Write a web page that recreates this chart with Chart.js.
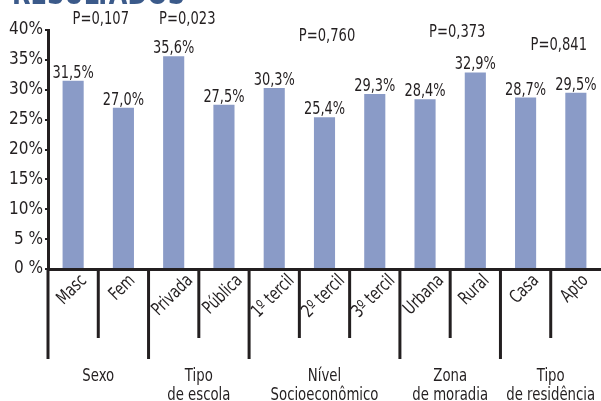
<!DOCTYPE html>
<html>
<head>
<meta charset="utf-8">
<script src="https://cdn.jsdelivr.net/npm/chart.js@4.4.0/dist/chart.umd.min.js"></script>
<style>
  html, body { margin: 0; padding: 0; background: #fff; }
  #wrap { width: 601px; height: 401px; position: relative; }
</style>
</head>
<body>
<div id="wrap"><canvas id="resultsChart" width="601" height="401"></canvas></div>
<script>
// data
const categories = ['Masc', 'Fem', 'Privada', 'Pública', '1º tercil', '2º tercil', '3º tercil', 'Urbana', 'Rural', 'Casa', 'Apto'];
const percentages = [31.5, 27.0, 35.6, 27.5, 30.3, 25.4, 29.3, 28.4, 32.9, 28.7, 29.5];
const groupNames = [['Sexo'], ['Tipo', 'de escola'], ['Nível', 'Socioeconômico'], ['Zona', 'de moradia'], ['Tipo', 'de residência']];
const groupSizes = [2, 2, 3, 2, 2];
const pValues = ['P=0,107', 'P=0,023', 'P=0,760', 'P=0,373', 'P=0,841'];
const yTickValues = [0, 5, 10, 15, 20, 25, 30, 35, 40];

// where each p-value sits, in axis units (category index, percent)
const pSpots = [[0.55, 41.0], [2.27, 41.0], [5.05, 38.2], [7.64, 38.8], [9.66, 36.6]];

const FONT = "'Liberation Sans Narrow', 'DejaVu Sans Condensed', 'Roboto Condensed', sans-serif";
const INK = '#231f20';
const SQUEEZE = 0.82;

Chart.defaults.font.family = FONT;
Chart.defaults.color = INK;

const fmt = (v) => v.toFixed(1).replace('.', ',') + '%';

// draw text squeezed horizontally, the reference uses a narrow face
const squeezed = (ctx, txt, px, py, sx) => {
  ctx.save();
  ctx.translate(px, py);
  ctx.scale(sx, 1);
  ctx.fillText(txt, 0, 0);
  ctx.restore();
};

const annotate = {
  id: 'annotate',
  afterDraw(chart) {
    const ctx = chart.ctx;
    const x = chart.scales.x;
    const y = chart.scales.y;
    const base = y.getPixelForValue(0);
    ctx.save();

    // title, mostly cut off at the top
    ctx.fillStyle = '#3b5a8a';
    ctx.font = "bold 30px " + FONT;
    ctx.textAlign = 'left';
    ctx.textBaseline = 'alphabetic';
    const tw = ctx.measureText('RESULTADOS').width;
    squeezed(ctx, 'RESULTADOS', 12, 4, 173 / tw);

    // separators under the axis
    const boundaries = [0];
    groupSizes.reduce((acc, n) => { boundaries.push(acc + n); return acc + n; }, 0);
    ctx.strokeStyle = INK;
    ctx.lineWidth = 3;
    for (let i = 0; i < categories.length; i++) {
      const px = x.getPixelForValue(i - 0.5);
      const long = boundaries.includes(i);
      ctx.beginPath();
      ctx.moveTo(px, base);
      ctx.lineTo(px, base + (long ? 90 : 69));
      ctx.stroke();
    }

    // rotated category labels
    ctx.fillStyle = INK;
    ctx.font = "18px " + FONT;
    ctx.textAlign = 'right';
    ctx.textBaseline = 'middle';
    categories.forEach((label, i) => {
      const w = ctx.measureText(label).width * SQUEEZE;
      const cx = x.getPixelForValue(i) - 1;
      ctx.save();
      ctx.translate(cx + 0.354 * w, base + 9);
      ctx.rotate(-Math.PI / 4);
      ctx.scale(SQUEEZE, 1);
      ctx.fillText(label, 0, 0);
      ctx.restore();
    });

    // group names
    ctx.textAlign = 'center';
    ctx.textBaseline = 'alphabetic';
    let start = 0;
    groupSizes.forEach((n, g) => {
      const cx = (x.getPixelForValue(start - 0.5) + x.getPixelForValue(start + n - 0.5)) / 2;
      groupNames[g].forEach((line, k) => squeezed(ctx, line, cx, base + 112 + k * 19, SQUEEZE));
      start += n;
    });

    // values over the bars
    const meta = chart.getDatasetMeta(0);
    meta.data.forEach((bar, i) => {
      squeezed(ctx, fmt(percentages[i]), bar.x, bar.y - 3, 0.8);
    });

    // p-values
    pValues.forEach((txt, g) => {
      squeezed(ctx, txt, x.getPixelForValue(pSpots[g][0]), y.getPixelForValue(pSpots[g][1]), 0.81);
    });

    ctx.restore();
  }
};

new Chart(document.getElementById('resultsChart'), {
  type: 'bar',
  data: {
    labels: categories,
    datasets: [{
      data: percentages,
      backgroundColor: '#8a9bc7',
      barPercentage: 0.42,
      categoryPercentage: 1.0
    }]
  },
  options: {
    responsive: false,
    animation: false,
    devicePixelRatio: 1,
    layout: { padding: { top: 30, right: 0, bottom: 0, left: 0 } },
    plugins: { legend: { display: false }, tooltip: { enabled: false } },
    scales: {
      x: {
        grid: { display: false },
        border: { display: true, color: INK, width: 3 },
        ticks: { display: false },
        afterFit: (scale) => { scale.height = 132; }
      },
      y: {
        min: 0,
        max: 40,
        afterBuildTicks: (scale) => { scale.ticks = yTickValues.map((v) => ({ value: v })); },
        ticks: {
          font: { size: 17 },
          color: INK,
          padding: 2,
          callback: (v) => (v < 10 ? v + ' %' : v + '%')
        },
        grid: { drawOnChartArea: false, color: INK, lineWidth: 2, tickLength: 3 },
        border: { display: true, color: INK, width: 3 },
        afterFit: (scale) => { scale.width = 48; }
      }
    }
  },
  plugins: [annotate]
});
</script>
</body>
</html>
